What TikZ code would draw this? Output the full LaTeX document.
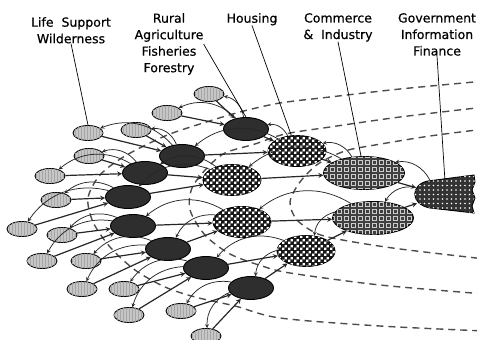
\documentclass[tikz,border=0pt]{standalone}
\usepackage{fontspec}
\setmainfont{DejaVu Sans}
\newfontfamily\lblfont{DejaVu Sans}[FakeBold=0.6]
\usetikzlibrary{shapes.geometric,patterns}

\pgfdeclarepatternformonly{checks}{\pgfpointorigin}{\pgfpoint{6pt}{6pt}}{\pgfpoint{6pt}{6pt}}{%
  \pgfpathrectangle{\pgfpointorigin}{\pgfpoint{2.6pt}{2.6pt}}%
  \pgfpathrectangle{\pgfpoint{3pt}{3pt}}{\pgfpoint{2.6pt}{2.6pt}}%
  \pgfusepath{fill}}
\pgfdeclarepatternformonly{boxes}{\pgfpoint{-1pt}{-1pt}}{\pgfpoint{7pt}{7pt}}{\pgfpoint{7pt}{7pt}}{%
  \pgfsetlinewidth{0.8pt}%
  \pgfpathrectangle{\pgfpoint{1pt}{1pt}}{\pgfpoint{4pt}{4pt}}%
  \pgfusepath{stroke}}
\pgfdeclarepatternformonly{spots}{\pgfpoint{-1pt}{-1pt}}{\pgfpoint{4pt}{4pt}}{\pgfpoint{4.5pt}{4.5pt}}{%
  \pgfpathcircle{\pgfpoint{1.5pt}{1.5pt}}{0.9pt}%
  \pgfusepath{fill}}

\begin{document}
\begin{tikzpicture}[x=1pt,y=-1pt,
    life/.style={ellipse,draw,line width=0.9pt,inner sep=0pt,minimum width=30pt,minimum height=15pt,
      fill=gray!45,postaction={pattern=vertical lines,pattern color=gray!70}},
    rural/.style={ellipse,draw,line width=0.9pt,inner sep=0pt,minimum width=45pt,minimum height=23pt,fill=black!82},
    house/.style={ellipse,draw,line width=0.9pt,inner sep=0pt,minimum width=58pt,minimum height=31pt,
      fill=black!90,postaction={pattern=checks,pattern color=white}},
    trade/.style={ellipse,draw,line width=0.9pt,inner sep=0pt,minimum width=81pt,minimum height=33pt,
      fill=black!75,postaction={pattern=boxes,pattern color=white!80!black}},
    govt/.style={ellipse,inner sep=0pt,minimum width=58pt,minimum height=32pt},
    feed/.style={line width=1.2pt,black!85,-stealth},
    serve/.style={line width=0.75pt,black!85,-stealth},
    zone/.style={line width=1.4pt,black!70,dash pattern=on 7pt off 5pt},
    lbl/.style={font=\lblfont\fontsize{12.5}{16.5}\selectfont,align=center,inner sep=0pt,anchor=north},
    pointer/.style={line width=0.7pt}]
  \useasboundingbox (0,0) rectangle (477,340);

  % zone boundaries
  \draw[zone] plot[smooth] coordinates {(485,129) (430,136) (375,145) (345,151) (318,164) (300,182)
    (290,202) (297,220) (318,234) (348,241) (400,249) (485,259)};
  \draw[zone] plot[smooth] coordinates {(485,107) (400,117) (330,127) (285,134) (255,144) (225,153)
    (207,168) (192,188) (190,210) (205,235) (230,254) (262,266) (290,273) (380,285) (485,294)};
  \draw[zone] plot[smooth] coordinates {(485,81) (400,89) (330,97) (280,103) (240,112) (200,124)
    (165,136) (125,156) (100,175) (88,198) (93,222) (110,247) (135,270) (165,287) (195,297)
    (235,306) (280,318) (380,326) (485,331)};

  % government
  \draw[line width=0.9pt,fill=black!80,postaction={pattern=spots,pattern color=white}]
    (474,175) -- (428,181) .. controls (411,184) and (409,204) .. (430,208) -- (474,213)
    -- (472,206) -- (475,198) -- (472,190) -- (475,182) -- cycle;
  \node[govt] (gov) at (442,195) {};

  \node[trade] (ci1) at (364,173) {};
  \node[trade] (ci2) at (373,218) {};

  \foreach \n/\x/\y in {h1/297/151,h2/232/180,h3/242/222,h4/306/251}
    \node[house] (\n) at (\x,\y) {};

  \foreach \n/\x/\y in {r1/246/129,r2/182/156,r3/145/173,r4/128/197,
                        r5/133/226,r6/168/249,r7/206/268,r8/251/288}
    \node[rural] (\n) at (\x,\y) {};

  \foreach \n/\x/\y in {l1/209/94,l2/167/113,l3/88/133,l4/136/130,l5/89/156,l6/50/176,
                        l7/56/200,l8/22/229,l9/62/235,l10/42/261,l11/86/261,l12/82/289,
                        l13/124/289,l14/129/315,l15/181/311,l16/206/336}
    \node[life] (\n) at (\x,\y) {};

  % flows up and down the tree
  \foreach \c/\p in {ci1/gov,ci2/gov,h1/ci1,h2/ci1,h3/ci2,h4/ci2,
                     r1/h1,r2/h1,r3/h2,r4/h2,r5/h3,r6/h3,r7/h4,r8/h4,
                     l1/r1,l2/r1,l3/r2,l4/r2,l5/r3,l6/r3,l7/r4,l8/r4,
                     l9/r5,l10/r5,l11/r6,l12/r6,l13/r7,l14/r7,l15/r8,l16/r8}{
    \draw[feed] (\c) -- (\p);
    \draw[serve] (\p) to[bend right=35] (\c);}

  % labels
  \node[lbl] (lifelbl) at (71,17) {Life~~Support\\Wilderness};
  \node[lbl] (rurallbl) at (169,13) {Rural\\Agriculture\\Fisheries\\Forestry};
  \node[lbl] (houselbl) at (252,13) {Housing};
  \node[lbl] (tradelbl) at (338,13) {Commerce\\\&~~Industry};
  \node[lbl] (govlbl) at (437,13) {Government\\Information\\Finance};

  \draw[pointer] (lifelbl.south) -- (l3.north);
  \draw[pointer] (rurallbl.east) -- (r1.north);
  \draw[pointer] (houselbl.south) -- (h1.110);
  \draw[pointer] (tradelbl.south) -- (ci1.100);
  \draw[pointer] (govlbl.south) -- (gov.80);
\end{tikzpicture}
\end{document}
